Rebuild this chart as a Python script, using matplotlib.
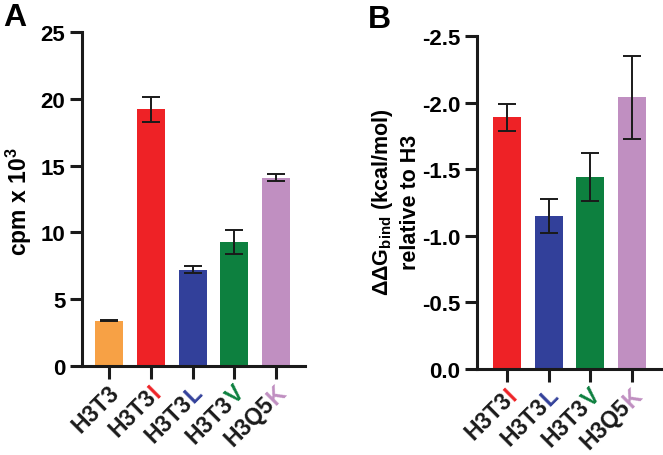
import numpy as np
import matplotlib
matplotlib.use("Agg")
import matplotlib.pyplot as plt
from matplotlib.transforms import ScaledTranslation

# ---- data ----
a_prefix = ["H3T3", "H3T3", "H3T3", "H3T3", "H3Q5"]
a_suffix = ["", "I", "L", "V", "K"]
a_values = [3.4, 19.2, 7.2, 9.25, 14.1]
a_errors = [0.05, 0.9, 0.25, 0.9, 0.25]
a_colors = ["#F7A145", "#EE2226", "#32409A", "#0D803F", "#C08FC1"]

b_prefix = ["H3T3", "H3T3", "H3T3", "H3Q5"]
b_suffix = ["I", "L", "V", "K"]
b_values = [-1.89, -1.15, -1.44, -2.04]
b_errors = [0.10, 0.13, 0.18, 0.31]
b_colors = ["#EE2226", "#32409A", "#0D803F", "#C08FC1"]

a_yticks = [0, 5, 10, 15, 20, 25]
b_yticks = [0.0, -0.5, -1.0, -1.5, -2.0, -2.5]
b_yticklabels = ["0.0", "-0.5", "-1.0", "-1.5", "-2.0", "-2.5"]

FONT = "Liberation Sans"
plt.rcParams["font.family"] = [FONT, "DejaVu Sans"]
plt.rcParams["font.weight"] = "bold"
plt.rcParams["mathtext.fontset"] = "custom"
plt.rcParams["mathtext.rm"] = FONT
plt.rcParams["mathtext.bf"] = FONT + ":bold"

FS = 16
XFS = 16.5
DPI = 100
fig = plt.figure(figsize=(6.63, 4.56), dpi=DPI)
renderer = fig.canvas.get_renderer()

axA = fig.add_axes([82 / 663, (456 - 367) / 456, 223 / 663, 334 / 456])
axB = fig.add_axes([477 / 663, (456 - 370) / 456, 185 / 663, 333 / 456])


def style(ax):
    for s in ["top", "right"]:
        ax.spines[s].set_visible(False)
    for s in ["left", "bottom"]:
        ax.spines[s].set_linewidth(2.2)
        ax.spines[s].set_color("#1a1a1a")
    ax.tick_params(axis="both", width=2.2, length=9, color="#1a1a1a",
                   labelsize=FS, pad=3)
    for lab in ax.get_yticklabels():
        lab.set_fontweight("bold")


def measure(s):
    t = fig.text(0, 0, s, fontsize=XFS, fontweight="bold")
    w = t.get_window_extent(renderer=renderer).width
    t.remove()
    return w


def xlabels(ax, prefixes, suffixes, colors):
    ax.set_xticklabels([])
    c, s45 = np.cos(np.pi / 4), np.sin(np.pi / 4)
    for i, (p, sfx, col) in enumerate(zip(prefixes, suffixes, colors)):
        base = ax.get_xaxis_transform() + ScaledTranslation(0.11, -0.27, fig.dpi_scale_trans)
        full = p + sfx
        if sfx:
            d = (measure(full) - measure(p)) / DPI
            ax.text(i, 0, sfx, color=col, fontsize=XFS, fontweight="bold",
                    rotation=45, rotation_mode="anchor", ha="right", va="baseline",
                    transform=base, clip_on=False)
            tr = base + ScaledTranslation(-d * c, -d * s45, fig.dpi_scale_trans)
        else:
            tr = base
        ax.text(i, 0, p, color="#1a1a1a", fontsize=XFS, fontweight="bold",
                rotation=45, rotation_mode="anchor", ha="right", va="baseline",
                transform=tr, clip_on=False)


# ---- Panel A ----
xa = np.arange(len(a_values))
axA.bar(xa, a_values, width=0.67, color=a_colors, zorder=2)
axA.errorbar(xa, a_values, yerr=a_errors, fmt="none", ecolor="#1a1a1a",
             elinewidth=1.4, capsize=6.5, capthick=1.4, zorder=3)
axA.set_xlim(-0.65, 4.69)
axA.set_ylim(0, 25)
axA.set_yticks(a_yticks)
axA.set_xticks(xa)
style(axA)
xlabels(axA, a_prefix, a_suffix, a_colors)
fig.text(19 / 663, 1 - 202 / 456, r"cpm x 10$^{\mathbf{3}}$", rotation=90,
         ha="center", va="center", fontsize=16.5, fontweight="bold")

# ---- Panel B ----
xb = np.arange(len(b_values))
axB.bar(xb, b_values, width=0.67, color=b_colors, zorder=2)
axB.errorbar(xb, b_values, yerr=b_errors, fmt="none", ecolor="#1a1a1a",
             elinewidth=1.4, capsize=6.5, capthick=1.4, zorder=3)
axB.set_xlim(-0.72, 3.72)
axB.set_ylim(0, -2.5)
axB.set_yticks(b_yticks)
axB.set_yticklabels(b_yticklabels)
axB.set_xticks(xb)
style(axB)
xlabels(axB, b_prefix, b_suffix, b_colors)
fig.text(383 / 663, 1 - 202 / 456, r"ΔΔG$_{\mathregular{bind}}$ (kcal/mol)", rotation=90,
         ha="center", va="center", fontsize=15.5, fontweight="bold")
fig.text(410 / 663, 1 - 202 / 456, "relative to H3", rotation=90,
         ha="center", va="center", fontsize=15.5, fontweight="bold")

# panel letters
fig.text(3 / 663, 1 - 3 / 456, "A", ha="left", va="top", fontsize=23, fontweight="bold")
fig.text(368 / 663, 1 - 5 / 456, "B", ha="left", va="top", fontsize=23, fontweight="bold")

fig.savefig("out.png", dpi=DPI)
